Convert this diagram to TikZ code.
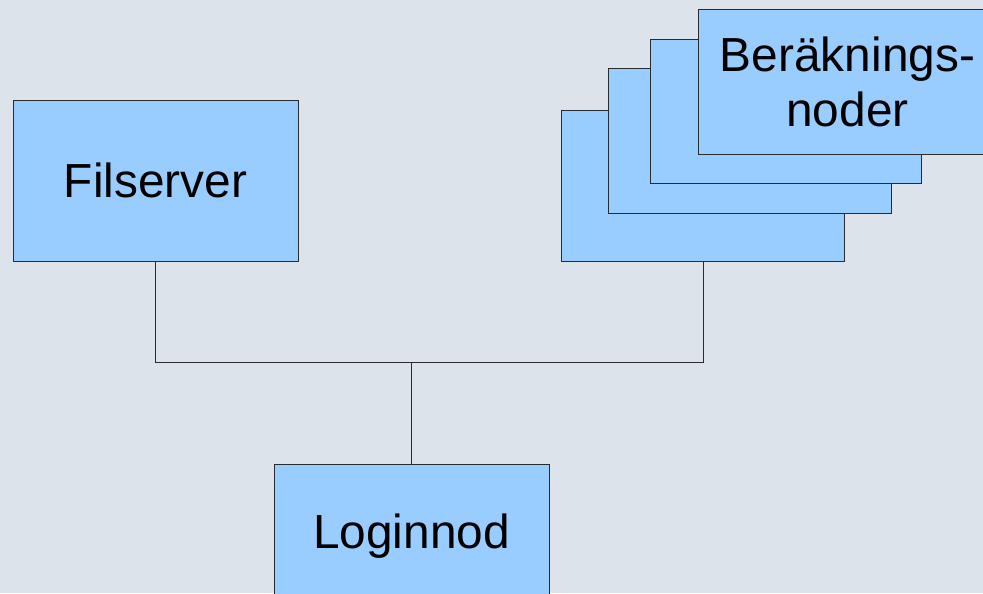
\documentclass[tikz,border=0pt]{standalone}
\usepackage{fontspec}
\setmainfont{Liberation Sans}
\usepackage{tikz}
\usetikzlibrary{positioning}
\definecolor{bgc}{RGB}{221,227,234}
\definecolor{boxc}{RGB}{153,204,255}
\definecolor{edgec}{RGB}{40,44,48}

\begin{document}
\begin{tikzpicture}[x=1cm,y=1cm,font=\fontsize{34}{39}\selectfont,
    box/.style={draw=edgec,fill=boxc,line width=0.7pt,inner sep=0pt,align=center},
    captxt/.style={text height=24.5pt,text depth=0pt},
    wire/.style={draw=edgec,line width=0.7pt}]
  % ---- page + background ----
  \useasboundingbox (0,0) rectangle (24.575,14.825);
  \fill[bgc] (0,0) rectangle (24.575,14.825);
  \clip (0,0) rectangle (24.575,14.825);
  % ---- file server + login node ----
  \node[box,captxt,minimum width=7.125cm,minimum height=4.025cm] (filserver) at (3.8875,10.3125) {Filserver};
  \node[box,captxt,minimum width=6.875cm,minimum height=3.35cm,anchor=north] (loginnod) at (10.2875,3.225) {Loginnod};
  % ---- stack of compute nodes ----
  \node[box,minimum width=7.075cm,minimum height=3.775cm,anchor=north west] (ber1) at (14.025,12.075) {};
  \node[box,minimum width=7.075cm,minimum height=3.625cm,anchor=north west] (ber2) at (15.2,13.125) {};
  \node[box,minimum width=6.775cm,minimum height=3.6cm,anchor=north west] (ber3) at (16.25,13.85) {};
  \node[box,minimum width=7.45cm,minimum height=3.625cm,anchor=north west] (ber4) at (17.45,14.6) {Beräknings-\\noder};
  % ---- network ----
  \coordinate (bus) at (10.3,5.775);
  \draw[wire] (filserver.south) |- (ber1.south |- bus) -- (ber1.south);
  \draw[wire] (loginnod.north) -- (loginnod.north |- bus);
\end{tikzpicture}
\end{document}
